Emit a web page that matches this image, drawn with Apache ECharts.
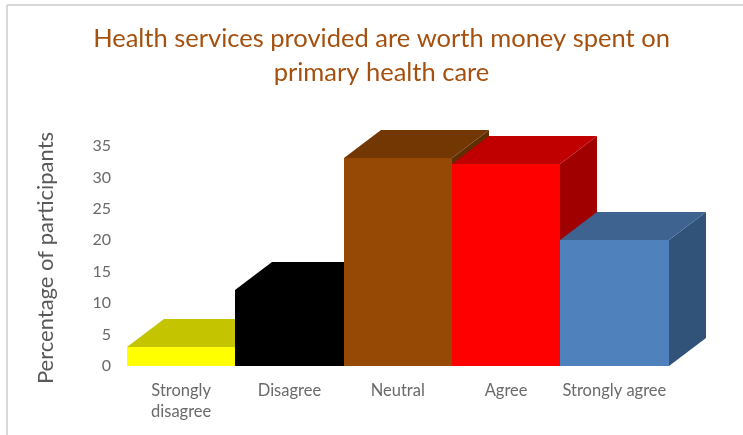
<!DOCTYPE html>
<html>
<head>
<meta charset="utf-8">
<style>html,body{margin:0;padding:0;background:#fff}#c{width:743px;height:435px}</style>
<script src="https://cdn.jsdelivr.net/npm/echarts@6/dist/echarts.min.js"></script>
</head>
<body>
<div id="c"></div>
<script>
const categories = ['Strongly\ndisagree', 'Disagree', 'Neutral', 'Agree', 'Strongly agree'];
const values = [3, 12.1, 33.1, 32.1, 20];
const yTicks = { min: 0, max: 35, interval: 5 };

// Front, top and side shades of each column
const frontColors = ['#ffff00', '#000000', '#964805', '#ff0000', '#4f81bd'];
const topColors = ['#c4c400', '#000000', '#733703', '#c00000', '#3e6390'];
const sideColors = ['#9a9a00', '#000000', '#5f2e03', '#a00000', '#325379'];

// Oblique projection offset of the column depth, in pixels
const DEPTH_X = 37;
const DEPTH_Y = 28;

const chart = echarts.init(document.getElementById('c'), null, { renderer: 'canvas' });

function renderColumn(params, api) {
  const i = api.value(0);
  const base = api.coord([i, 0]);
  const top = api.coord([i, api.value(1)]);
  const w = api.size([1, 0])[0];
  // Whole-pixel edges keep neighbouring faces free of seams
  const x0 = Math.round(base[0] - w / 2);
  const x1 = Math.round(base[0] + w / 2);
  const yb = Math.round(base[1]);
  const yt = Math.round(top[1]);
  return {
    type: 'group',
    children: [
      {
        type: 'polygon',
        shape: { points: [[x1, yt], [x1 + DEPTH_X, yt - DEPTH_Y], [x1 + DEPTH_X, yb - DEPTH_Y], [x1, yb]] },
        style: { fill: sideColors[i] }
      },
      {
        type: 'polygon',
        shape: { points: [[x0, yt], [x0 + DEPTH_X, yt - DEPTH_Y], [x1 + DEPTH_X, yt - DEPTH_Y], [x1, yt]] },
        style: { fill: topColors[i] }
      },
      {
        type: 'rect',
        shape: { x: x0, y: yt, width: x1 - x0, height: yb - yt },
        style: { fill: frontColors[i] }
      }
    ]
  };
}

chart.setOption({
  animation: false,
  backgroundColor: '#ffffff',
  textStyle: { fontFamily: 'Lato' },
  title: {
    text: 'Health services provided are worth money spent on\nprimary health care',
    left: 376.5,
    top: 17,
    textAlign: 'center',
    textStyle: {
      color: '#a5500f',
      fontFamily: 'Lato',
      fontSize: 25.5,
      fontWeight: 'normal',
      lineHeight: 34
    }
  },
  grid: { left: 127, right: 74.5, top: 146, bottom: 69 },
  xAxis: {
    type: 'category',
    data: categories,
    boundaryGap: true,
    axisLine: { show: false },
    axisTick: { show: false },
    axisLabel: { interval: 0, color: '#6a6a6a', fontFamily: 'Lato', fontSize: 16.5, lineHeight: 21, margin: 14 }
  },
  yAxis: {
    type: 'value',
    min: yTicks.min,
    max: yTicks.max,
    interval: yTicks.interval,
    splitLine: { show: false },
    axisLine: { show: false },
    axisTick: { show: false },
    axisLabel: { color: '#6a6a6a', fontFamily: 'Lato', fontSize: 16, margin: 16 },
    name: 'Percentage of participants',
    nameLocation: 'middle',
    nameRotate: 90,
    nameGap: 70,
    nameTextStyle: { color: '#595959', fontFamily: 'Lato', fontSize: 22, padding: [0, 4, 0, 0] }
  },
  series: [{
    type: 'custom',
    coordinateSystem: 'cartesian2d',
    clip: false,
    renderItem: renderColumn,
    encode: { x: 0, y: 1 },
    data: values.map((v, i) => [i, v])
  }],
  graphic: [
    { type: 'line', silent: true, shape: { x1: 7, y1: 5, x2: 743, y2: 5 }, style: { stroke: '#d9d9d9', lineWidth: 2 } },
    { type: 'line', silent: true, shape: { x1: 7, y1: 5, x2: 7, y2: 435 }, style: { stroke: '#d9d9d9', lineWidth: 2 } }
  ]
});
</script>
</body>
</html>
